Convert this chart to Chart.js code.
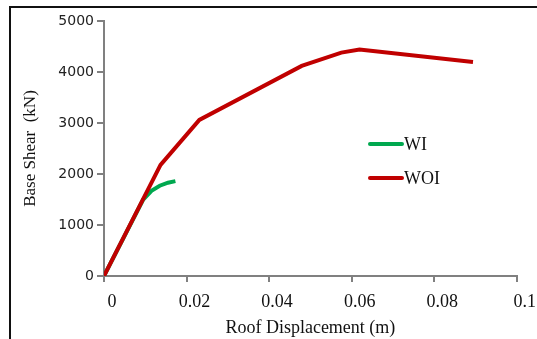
<!DOCTYPE html>
<html>
<head>
<meta charset="utf-8">
<script src="https://cdn.jsdelivr.net/npm/chart.js@4"></script>
<style>
  html, body { margin: 0; padding: 0; background: #fff; }
  #wrap { position: relative; width: 537px; height: 339px; overflow: hidden; }
  #frame { position: absolute; left: 9px; top: 6px; width: 600px; height: 400px;
           border-left: 2px solid #111; border-top: 2px solid #111; }
  canvas { position: absolute; left: 0; top: 0; }
</style>
</head>
<body>
<div id="wrap">
  <div id="frame"></div>
  <canvas id="pushover" width="537" height="339"></canvas>
</div>
<script>
// roof displacement (m) vs base shear (kN)
const dispWI = [0, 0.0095, 0.0115, 0.0135, 0.0155, 0.0173];
const shearWI = [0, 1500, 1670, 1770, 1830, 1860];
const dispWOI = [0, 0.0137, 0.0231, 0.0479, 0.0575, 0.0619, 0.0894];
const shearWOI = [0, 2180, 3060, 4120, 4380, 4440, 4195];
const seriesNames = ['WI', 'WOI'];
const xTicks = [0, 0.02, 0.04, 0.06, 0.08, 0.1];
const yTicks = [0, 1000, 2000, 3000, 4000, 5000];

const toPoints = (xs, ys) => xs.map((x, i) => ({ x: x, y: ys[i] }));

// legend drawn inside the plot, like the original
const insideLegend = {
  id: 'insideLegend',
  afterDraw(chart) {
    const ctx = chart.ctx;
    const rows = [[chart.data.datasets[0], 144], [chart.data.datasets[1], 178]];
    ctx.save();
    rows.forEach(([ds, y]) => {
      ctx.strokeStyle = ds.borderColor;
      ctx.lineWidth = 4;
      ctx.lineCap = 'round';
      ctx.beginPath();
      ctx.moveTo(370, y);
      ctx.lineTo(402, y);
      ctx.stroke();
      ctx.fillStyle = '#111';
      ctx.font = '18px "Liberation Serif"';
      ctx.textBaseline = 'middle';
      ctx.fillText(ds.label, 404, y + 1);
    });
    ctx.restore();
  }
};

new Chart(document.getElementById('pushover'), {
  type: 'line',
  data: {
    datasets: [
      { label: seriesNames[0], data: toPoints(dispWI, shearWI), borderColor: '#00A84F',
        borderWidth: 4, pointRadius: 0, order: 2 },
      { label: seriesNames[1], data: toPoints(dispWOI, shearWOI), borderColor: '#C00000',
        borderWidth: 4, pointRadius: 0, order: 1 }
    ]
  },
  options: {
    responsive: false,
    animation: false,
    layout: { padding: { top: 21, right: 17, left: 0, bottom: 0 } },
    plugins: { legend: { display: false }, tooltip: { enabled: false } },
    scales: {
      x: {
        type: 'linear', min: 0, max: 0.1,
        afterBuildTicks: s => { s.ticks = xTicks.map(v => ({ value: v })); },
        afterFit: s => { s.height = 63; },
        border: { color: '#808080', width: 2 },
        grid: { drawOnChartArea: false, tickLength: 6, color: '#808080', lineWidth: 2 },
        ticks: { color: '#111', padding: 9, labelOffset: 8, callback: v => String(v),
                 font: { family: 'Liberation Serif', size: 18 } },
        title: { display: true, text: 'Roof Displacement (m)', color: '#111',
                 font: { family: 'Liberation Serif', size: 18 }, padding: { top: 0, bottom: 0 } }
      },
      y: {
        type: 'linear', min: 0, max: 5000,
        afterBuildTicks: s => { s.ticks = yTicks.map(v => ({ value: v })); },
        afterFit: s => { s.width = 104; },
        border: { color: '#808080', width: 2 },
        grid: { drawOnChartArea: false, tickLength: 7, color: '#808080', lineWidth: 2 },
        ticks: { color: '#222', padding: 3, callback: v => String(v),
                 font: { family: 'DejaVu Sans', size: 14 } },
        title: { display: true, text: 'Base Shear  (kN)', color: '#111',
                 font: { family: 'Liberation Serif', size: 17 }, padding: { top: 20, bottom: 0 } }
      }
    }
  },
  plugins: [insideLegend]
});
</script>
</body>
</html>
